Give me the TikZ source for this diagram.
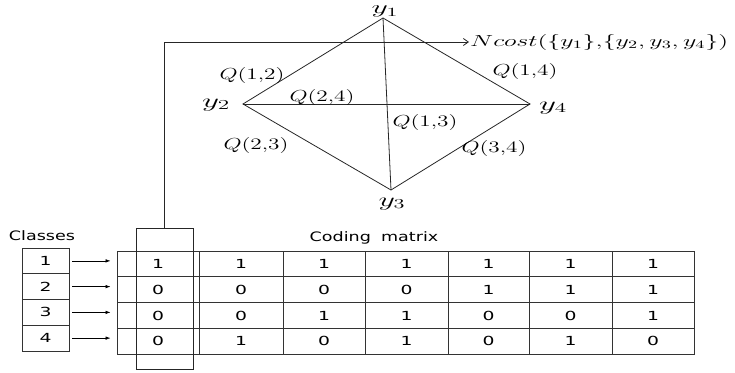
\RequirePackage{fix-cm}
\documentclass[tikz,border=0pt]{standalone}
\usepackage{fontspec}
\usepackage{graphicx}
\usetikzlibrary{arrows.meta}
\newfontfamily\tabf{DejaVu Sans}[FakeStretch=1.35]
\newfontfamily\digf{DejaVu Sans}[FakeStretch=1.5]
\newcommand\mlab[2]{\resizebox{#1pt}{\height}{$#2$}}
\begin{document}
\begin{tikzpicture}[x=1pt,y=-1pt,
  edge/.style={draw=black!85,line width=0.8pt},
  qlab/.style={inner sep=0pt,font=\fontsize{16}{18}\selectfont},
  ylab/.style={inner sep=0pt,anchor=base,font=\fontsize{19.5}{22}\selectfont},
  cell/.style={draw=black!80,line width=0.8pt,inner sep=0pt,font=\digf\fontsize{12.5}{14}\selectfont},
  ttl/.style={inner sep=0pt,font=\tabf\fontsize{13}{15}\selectfont},
  arr/.style={draw=black,line width=0.7pt,-{Latex[length=5pt,width=3.5pt]}},
  barb/.style={draw=black!85,line width=0.8pt,-{Straight Barb[length=5pt,width=7pt]}}]
\useasboundingbox (0,0) rectangle (735,372);
% diamond vertices
\coordinate (v1) at (383,18);
\coordinate (v2) at (243,104);
\coordinate (v4) at (530,104);
\coordinate (v3) at (391,190);
\draw[edge] (v1) -- (v2) -- (v3) -- (v4) -- cycle;
\draw[edge] (v2) -- (v4);
\draw[edge] (v1) -- (v3);
% vertex labels
\node[ylab,font=\fontsize{18}{20}\selectfont] (ly1) at (385,13.5) {\mlab{27}{y_1}};
\node[ylab] (ly2) at (216,107) {\mlab{28}{y_2}};
\node[ylab] (ly4) at (553,110) {\mlab{28}{y_4}};
\node[ylab] (ly3) at (392,206) {\mlab{27}{y_3}};
% edge labels
\node[qlab] (q12) at (252,75) {\mlab{65}{Q(1{,}2)}};
\node[qlab] (q24) at (322,97) {\mlab{65}{Q(2{,}4)}};
\node[qlab] (q13) at (425,122) {\mlab{65}{Q(1{,}3)}};
\node[qlab] (q23) at (256,145) {\mlab{65}{Q(2{,}3)}};
\node[qlab] (q34) at (494,148) {\mlab{65}{Q(3{,}4)}};
\node[qlab] (q14) at (525,71) {\mlab{65}{Q(1{,}4)}};
\node[qlab,anchor=west] (nc) at (470,42) {\mlab{258}{Ncost(\{y_1\}{,}\{y_2,y_3,y_4\})}};
% titles
\node[ttl] (cls) at (42,236) {Classes};
\node[ttl] (cm) at (374,238) {Coding\hspace{0.35em} matrix};
% class boxes
\foreach \i/\yc in {1/260.875,2/286.625,3/312.375,4/338.125}{
  \node[cell,minimum width=47pt,minimum height=25.75pt] (c\i) at (45.5,\yc) {\i};
}
% coding matrix
\foreach \i/\yc/\vals in {1/264/{1,1,1,1,1,1,1},2/289.75/{0,0,0,0,1,1,1},3/315.5/{0,0,1,1,0,0,1},4/341.25/{0,1,0,1,0,1,0}}{
  \foreach \v [count=\j] in \vals {
    \pgfmathsetmacro\xc{{158,241,324,406.5,488.5,570.5,653}[\j-1]}
    \pgfmathsetmacro\w{{82,84,82,83,81,83,82}[\j-1]}
    \node[cell,minimum width=\w pt,minimum height=25.75pt] (m-\i-\j) at (\xc,\yc) {\v};
  }
}
% arrows class -> matrix row
\foreach \i in {1,2,3,4}{
  \draw[arr] ([xshift=3pt]c\i.east) -- ([xshift=-6pt]c\i.east -| m-\i-1.west);
}
% highlighted column
\node[draw=black!85,line width=0.8pt,minimum width=57pt,minimum height=141pt,inner sep=0pt] (hb) at (164.5,298.5) {};
\draw[barb] (hb.north) |- ([xshift=-1pt]nc.west);
\end{tikzpicture}
\end{document}
